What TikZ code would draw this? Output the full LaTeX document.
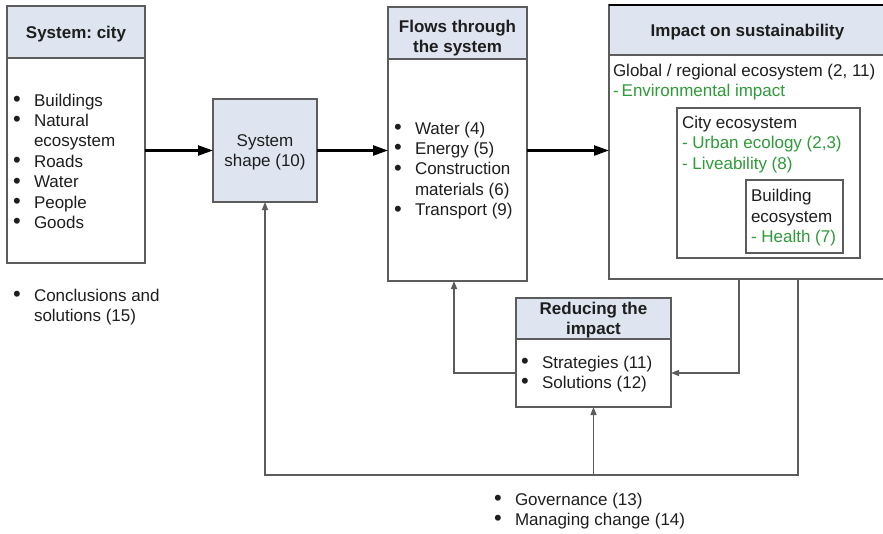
\documentclass[tikz,border=0pt]{standalone}
\usepackage{fontspec}
\setmainfont{Liberation Sans}
\usetikzlibrary{arrows.meta}
\definecolor{hdfill}{HTML}{DFE5F0}
\definecolor{edge}{HTML}{5C5C5C}
\definecolor{txt}{HTML}{1E1E1E}
\definecolor{leaf}{HTML}{2F9A3A}
\frenchspacing
% bulleted line and its hanging continuation
\newcommand{\bdot}{\raisebox{-0.4pt}{\fontsize{22}{20.4}\selectfont\textbullet}}
\newcommand{\bitem}[1]{\makebox[21pt][l]{\bdot}#1}
\newcommand{\bcont}[1]{\hspace*{21pt}#1}
\newcommand{\rows}[1]{\begin{tabular}[t]{@{}l@{}}#1\end{tabular}}
\newcommand{\crows}[1]{\begin{tabular}[t]{@{}c@{}}#1\end{tabular}}
\begin{document}
\begin{tikzpicture}[x=1pt,y=-1pt,
  every node/.style={font=\fontsize{17}{20.4}\selectfont, text=txt, inner sep=0pt, outer sep=0pt},
  frame/.style={draw=edge, line width=1.3pt, fill=white, anchor=north west},
  head/.style={frame, fill=hdfill},
  hdtext/.style={font=\fontsize{17}{20.4}\selectfont\bfseries, anchor=base},
  list/.style={anchor=base west},
  main/.style={line width=2.4pt, draw=black, -{Triangle[length=15pt,width=10pt]}},
  fb/.style={line width=1.4pt, draw=edge, -{Triangle[length=8pt,width=6pt]}},
]
\useasboundingbox (0,0) rectangle (883,533);

% ---- boxes ----
\node[frame, minimum width=138pt, minimum height=257pt] (city) at (7,6) {};
\node[head, minimum width=138pt, minimum height=52pt] (cityhd) at (7,6) {};
\node[head, minimum width=104pt, minimum height=103pt] (shape) at (213,99) {};
\node[frame, minimum width=139pt, minimum height=274pt] (flows) at (388,7) {};
\node[head, minimum width=139pt, minimum height=52pt] (flowshd) at (388,7) {};
\node[frame, minimum width=280pt, minimum height=274pt] (impact) at (609,5) {};
\node[head, minimum width=280pt, minimum height=50pt] (impacthd) at (609,5) {};
\draw[line width=1.5pt, draw=black] (impacthd.north west) -- (impacthd.north east);
\node[frame, minimum width=183pt, minimum height=150pt] (cityeco) at (677,108) {};
\node[frame, minimum width=97pt, minimum height=73pt] (bldg) at (746,180) {};
\node[frame, minimum width=155pt, minimum height=109pt] (reduce) at (516,298) {};
\node[head, minimum width=155pt, minimum height=41pt] (reducehd) at (516,298) {};

% ---- headings ----
\node[hdtext] (cityT) at (76,38) {System: city};
\node[hdtext] (flowsT) at (457.5,32) {\crows{Flows through\\the system}};
\node[hdtext] (impactT) at (747.5,36) {Impact on sustainability};
\node[hdtext] (reduceT) at (593.5,314) {\crows{Reducing the\\impact}};
\node[anchor=base] (shapeT) at (265,146) {\crows{System\\shape (10)}};

% ---- lists ----
\node[list] (cityL) at (13,106) {\rows{\bitem{Buildings}\\\bitem{Natural}\\\bcont{ecosystem}\\\bitem{Roads}\\\bitem{Water}\\\bitem{People}\\\bitem{Goods}}};
\node[list] (concL) at (13,301) {\rows{\bitem{Conclusions and}\\\bcont{solutions (15)}}};
\node[list] (flowsL) at (394,134) {\rows{\bitem{Water (4)}\\\bitem{Energy (5)}\\\bitem{Construction}\\\bcont{materials (6)}\\\bitem{Transport (9)}}};
\node[list] (reduceL) at (521,368) {\rows{\bitem{Strategies (11)}\\\bitem{Solutions (12)}}};
\node[list] (govL) at (494,505) {\rows{\bitem{Governance (13)}\\\bitem{Managing change (14)}}};

% ---- nested ecosystems ----
\node[list] (globalT) at (613,76) {\rows{Global / regional ecosystem (2, 11)\\{\color{leaf}-\hspace{3pt}Environmental impact}}};
\node[list] (cityecoT) at (682,128.3) {\rows{City ecosystem\\{\color{leaf}- Urban ecology (2,3)}\\{\color{leaf}- Liveability (8)}}};
\node[list] (bldgT) at (751,201.7) {\rows{Building\\ecosystem\\{\color{leaf}- Health (7)}}};

% ---- main flow ----
\draw[main] (city.east |- shape.west) -- (shape.west);
\draw[main] (shape.east) -- (flows.west |- shape.east);
\draw[main] (flows.east |- shape.east) -- (impact.west |- shape.east);

% ---- feedback loops ----
\coordinate (fbL) at (454,373);
\coordinate (fbR) at (739,373);
\coordinate (busR) at (798,475);
\draw[fb] (reduce.west |- fbL) -| (fbL |- flows.south);
\draw[fb] (impact.south -| fbR) |- (reduce.east |- fbR);
\draw[fb] (impact.south -| busR) |- (shape.south |- busR) -- (shape.south);
\draw[fb] (reduce.south |- busR) -- (reduce.south);
\end{tikzpicture}
\end{document}
